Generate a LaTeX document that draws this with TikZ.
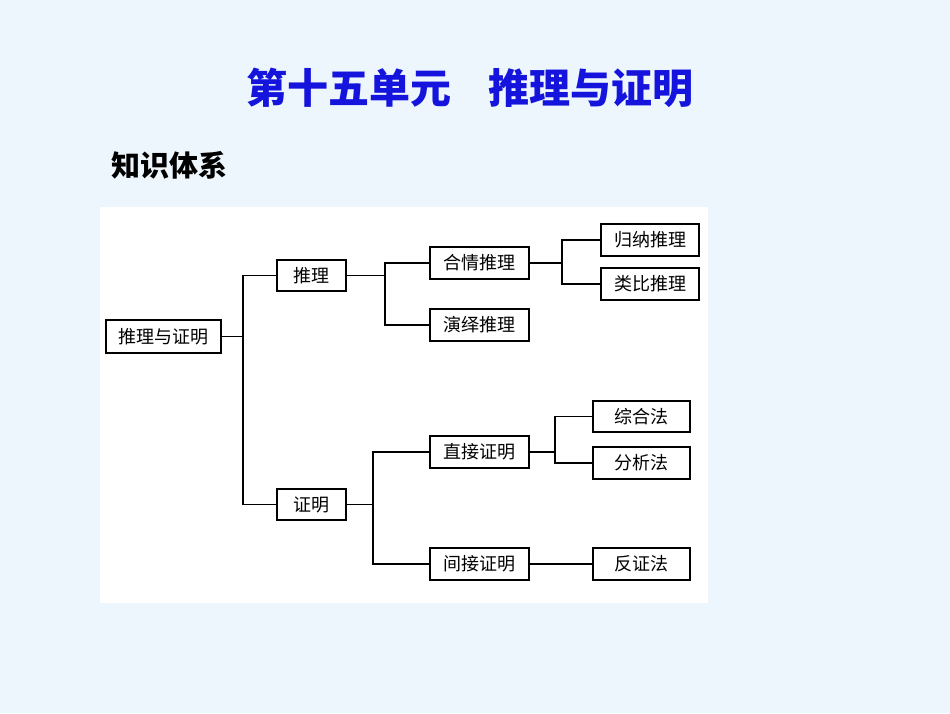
\documentclass[tikz,border=0pt]{standalone}
\usepackage{fontspec}
\newfontfamily\cjk{Noto Sans CJK SC}
\begin{document}
\begin{tikzpicture}[x=1pt,y=-1pt,
  bx/.style={draw=black,line width=1.1pt,fill=white,inner sep=0pt,font=\cjk\fontsize{18}{21}\selectfont},
  ln/.style={line width=1.1pt}]
\useasboundingbox (0,0) rectangle (950,713);
\fill[fill={rgb,255:red,238;green,246;blue,253}] (0,0) rectangle (950,713);
\fill[white] (100,207) rectangle (708,603);
\node[font=\cjk\bfseries\fontsize{41}{48}\selectfont,text={rgb,255:red,20;green,20;blue,220}] (t) at (470,88) {第十五单元\hspace{0.9em}推理与证明};
\node[font=\cjk\bfseries\fontsize{29}{34}\selectfont,anchor=west] (k) at (108,165) {知识体系};
\newcommand{\bxn}[6]{\node[bx,minimum width=#4-#2,minimum height=#5-#3] (#1) at ({(#2+#4)/2},{(#3+#5)/2}) {#6};}
\bxn{a}{106}{320}{221}{353}{推理与证明}
\bxn{b}{277}{260}{346}{291}{推理}
\bxn{c}{277}{489}{346}{520}{证明}
\bxn{d}{430}{247}{529}{279}{合情推理}
\bxn{e}{430}{309}{529}{341}{演绎推理}
\bxn{f}{430}{436}{529}{468}{直接证明}
\bxn{g}{430}{548}{529}{580}{间接证明}
\bxn{h}{601}{224}{699}{256}{归纳推理}
\bxn{i}{601}{268}{699}{300}{类比推理}
\bxn{j}{593}{401}{690}{432}{综合法}
\bxn{k2}{593}{447}{690}{479}{分析法}
\bxn{l}{593}{548}{690}{580}{反证法}
\draw[ln] (a.east) -- (243,0 |- a.east);
\draw[ln] (b.west) -| (243,0 |- c.west) -- (c.west);
\draw[ln] (b.east) -- (385,0 |- b.east);
\draw[ln] (d.west) -| (385,0 |- e.west) -- (e.west);
\draw[ln] (d.east) -- (562,0 |- d.east);
\draw[ln] (h.west) -| (562,0 |- i.west) -- (i.west);
\draw[ln] (c.east) -- (373,0 |- c.east);
\draw[ln] (f.west) -| (373,0 |- g.west) -- (g.west);
\draw[ln] (f.east) -- (555,0 |- f.east);
\draw[ln] (j.west) -| (555,0 |- k2.west) -- (k2.west);
\draw[ln] (g.east) -- (l.west);
\end{tikzpicture}
\end{document}
